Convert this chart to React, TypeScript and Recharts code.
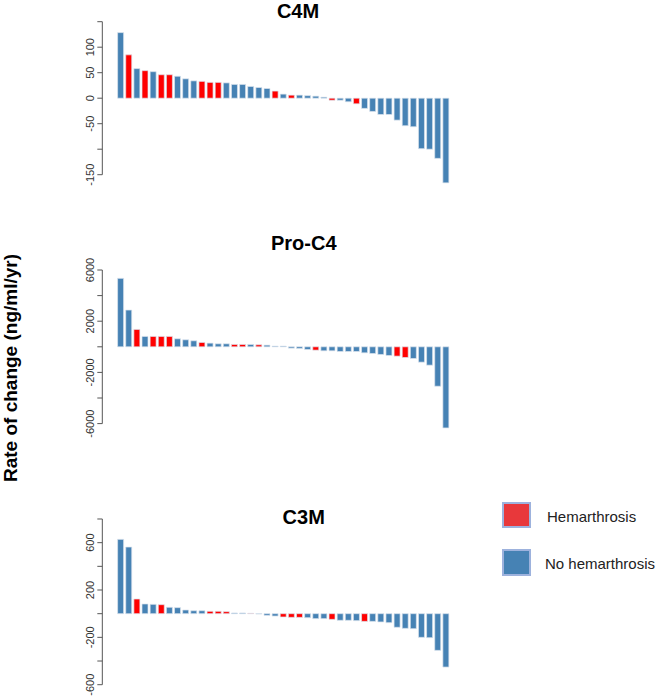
import React from 'react';
import { BarChart, Bar, Cell, XAxis, YAxis, ReferenceArea } from 'recharts';

// Rate of change per patient, sorted descending; H = hemarthrosis, N = none
const c4mValues = [128.6, 85, 58, 54, 52, 46, 46, 43, 38, 34, 33, 31, 31, 30, 27, 27, 23, 21, 19, 14, 8, 6, 6, 5, 4, 2, -4, -4, -7, -11, -20, -26, -32, -32, -43, -54, -56, -99, -100, -118, -166];
const c4mGroups = ['N', 'H', 'N', 'H', 'N', 'H', 'H', 'N', 'N', 'N', 'H', 'H', 'H', 'N', 'N', 'N', 'N', 'N', 'N', 'H', 'N', 'H', 'N', 'N', 'N', 'N', 'H', 'N', 'N', 'H', 'N', 'N', 'N', 'N', 'N', 'N', 'N', 'N', 'N', 'N', 'N'];

const proC4Values = [5348, 2870, 1357, 809, 809, 809, 809, 626, 548, 470, 339, 287, 235, 235, 183, 183, 183, 157, 130, 52, 52, -104, -130, -209, -261, -313, -313, -365, -365, -365, -470, -522, -600, -678, -730, -835, -913, -1200, -1435, -3080, -6340];
const proC4Groups = ['N', 'N', 'H', 'N', 'H', 'H', 'H', 'N', 'N', 'N', 'H', 'N', 'N', 'N', 'H', 'H', 'N', 'H', 'N', 'N', 'N', 'N', 'N', 'N', 'H', 'N', 'N', 'N', 'N', 'N', 'N', 'N', 'N', 'N', 'H', 'H', 'N', 'N', 'N', 'N', 'N'];

const c3mValues = [628, 563, 124, 82, 79, 76, 54, 51, 31, 25, 25, 20, 20, 17, 6, 6, 3, -3, -14, -20, -28, -31, -31, -34, -42, -42, -48, -56, -56, -59, -65, -65, -70, -76, -115, -124, -127, -200, -203, -310, -451];
const c3mGroups = ['N', 'N', 'H', 'N', 'N', 'H', 'N', 'N', 'N', 'N', 'N', 'H', 'H', 'H', 'N', 'N', 'H', 'N', 'N', 'N', 'H', 'H', 'H', 'N', 'N', 'N', 'H', 'N', 'N', 'N', 'H', 'N', 'N', 'N', 'N', 'N', 'N', 'N', 'N', 'N', 'N'];

const c4mTicks = [-150, -100, -50, 0, 50, 100, 150];
const c4mTickLabels = [-150, -50, 0, 50, 100];
const proC4Ticks = [-6000, -4000, -2000, 0, 2000, 4000, 6000];
const proC4TickLabels = [-6000, -2000, 2000, 6000];
const c3mTicks = [-600, -400, -200, 0, 200, 400, 600, 800];
const c3mTickLabels = [-600, -200, 200, 600];

const legendLabels = ['Hemarthrosis', 'No hemarthrosis'];
const yAxisTitle = 'Rate of change (ng/ml/yr)';

const BLUE = '#4682B4';
const RED = '#FF0000';
const AXIS_COLOR = '#555555';
const FONT = '"Liberation Sans", Arial, Helvetica, sans-serif';

const CHART_W = 664;
const Y_AXIS_W = 40;
const MARGIN_LEFT = 62.3;
const AXIS_X = MARGIN_LEFT + Y_AXIS_W;
const PLOT_RIGHT = 450;
const X_PAD = 14.3;

const toRows = (values: number[], groups: string[]) =>
  values.map((v, i) => ({ id: i + 1, value: v, group: groups[i] }));

const makeTick = (shown: number[]) => (props: any) => {
  const { x, y, payload } = props;
  const v = payload.value;
  return (
    <g>
      <line x1={x - 5} x2={x} y1={y} y2={y} stroke={AXIS_COLOR} strokeWidth={1} />
      {shown.includes(v) && (
        <text
          transform={`translate(${x - 8.8},${y}) rotate(-90)`}
          textAnchor="middle"
          fontSize={11}
          fontFamily={FONT}
          fill="#333"
        >
          {String(v)}
        </text>
      )}
    </g>
  );
};

// Vertical axis line spanning only the tick range
const AxisLineShape = (props: any) => {
  const { y, height } = props;
  return <line x1={AXIS_X} x2={AXIS_X} y1={y} y2={y + height} stroke={AXIS_COLOR} strokeWidth={1} />;
};

type PanelProps = {
  top: number;
  plotHeight: number;
  marginTop: number;
  marginBottom: number;
  domain: [number, number];
  ticks: number[];
  labels: number[];
  values: number[];
  groups: string[];
};

const Panel = ({ top, plotHeight, marginTop, marginBottom, domain, ticks, labels, values, groups }: PanelProps) => {
  const rows = toRows(values, groups);
  return (
    <div style={{ position: 'absolute', left: 0, top }}>
      <BarChart
        width={CHART_W}
        height={marginTop + plotHeight + marginBottom}
        data={rows}
        margin={{ top: marginTop, bottom: marginBottom, left: MARGIN_LEFT, right: CHART_W - PLOT_RIGHT }}
      >
        <XAxis dataKey="id" type="category" hide padding={{ left: X_PAD, right: 0 }} />
        <YAxis
          type="number"
          width={Y_AXIS_W}
          domain={domain}
          ticks={ticks}
          interval={0}
          axisLine={false}
          tickLine={false}
          tickSize={0}
          tickMargin={0}
          tick={makeTick(labels)}
        />
        <ReferenceArea y1={ticks[0]} y2={ticks[ticks.length - 1]} shape={AxisLineShape} ifOverflow="visible" />
        <Bar dataKey="value" barSize={6} stroke="#dbe4ee" strokeWidth={0.7} isAnimationActive={false}>
          {rows.map((r) => (
            <Cell key={r.id} fill={r.group === 'H' ? RED : BLUE} />
          ))}
        </Bar>
      </BarChart>
    </div>
  );
};

export default function App() {
  return (
    <div style={{ position: 'absolute', left: 0, top: 0, width: 664, height: 699, background: '#fff', overflow: 'hidden' }}>
      <Panel
        top={0}
        plotHeight={165.75}
        marginTop={21.7}
        marginBottom={12}
        domain={[-175, 150]}
        ticks={c4mTicks}
        labels={c4mTickLabels}
        values={c4mValues}
        groups={c4mGroups}
      />
      <Panel
        top={250}
        plotHeight={160}
        marginTop={20}
        marginBottom={20}
        domain={[-6500, 6000]}
        ticks={proC4Ticks}
        labels={proC4TickLabels}
        values={proC4Values}
        groups={proC4Groups}
      />
      <Panel
        top={500}
        plotHeight={165.7}
        marginTop={19}
        marginBottom={15}
        domain={[-600, 800]}
        ticks={c3mTicks}
        labels={c3mTickLabels}
        values={c3mValues}
        groups={c3mGroups}
      />
      <svg width={664} height={699} style={{ position: 'absolute', left: 0, top: 0, pointerEvents: 'none' }}>
        <g fontFamily={FONT} fontWeight="bold" fontSize={20} fill="#000" textAnchor="middle">
          <text x={298} y={18.3}>C4M</text>
          <text x={303.8} y={250}>Pro-C4</text>
          <text x={303.7} y={524}>C3M</text>
        </g>
        <text
          transform="translate(16.5,368) rotate(-90)"
          textAnchor="middle"
          fontFamily={FONT}
          fontWeight="bold"
          fontSize={19}
          fill="#000"
        >
          {yAxisTitle}
        </text>
        <rect x={503} y={503} width={27} height={24} fill="#E8383B" stroke="#9DB2DD" strokeWidth={2} />
        <rect x={503} y={550} width={27} height={25} fill={BLUE} stroke="#9DB2DD" strokeWidth={2} />
        <g fontFamily={FONT} fontSize={15} fill="#222">
          <text x={547} y={522}>{legendLabels[0]}</text>
          <text x={545} y={568.5}>{legendLabels[1]}</text>
        </g>
      </svg>
    </div>
  );
}
